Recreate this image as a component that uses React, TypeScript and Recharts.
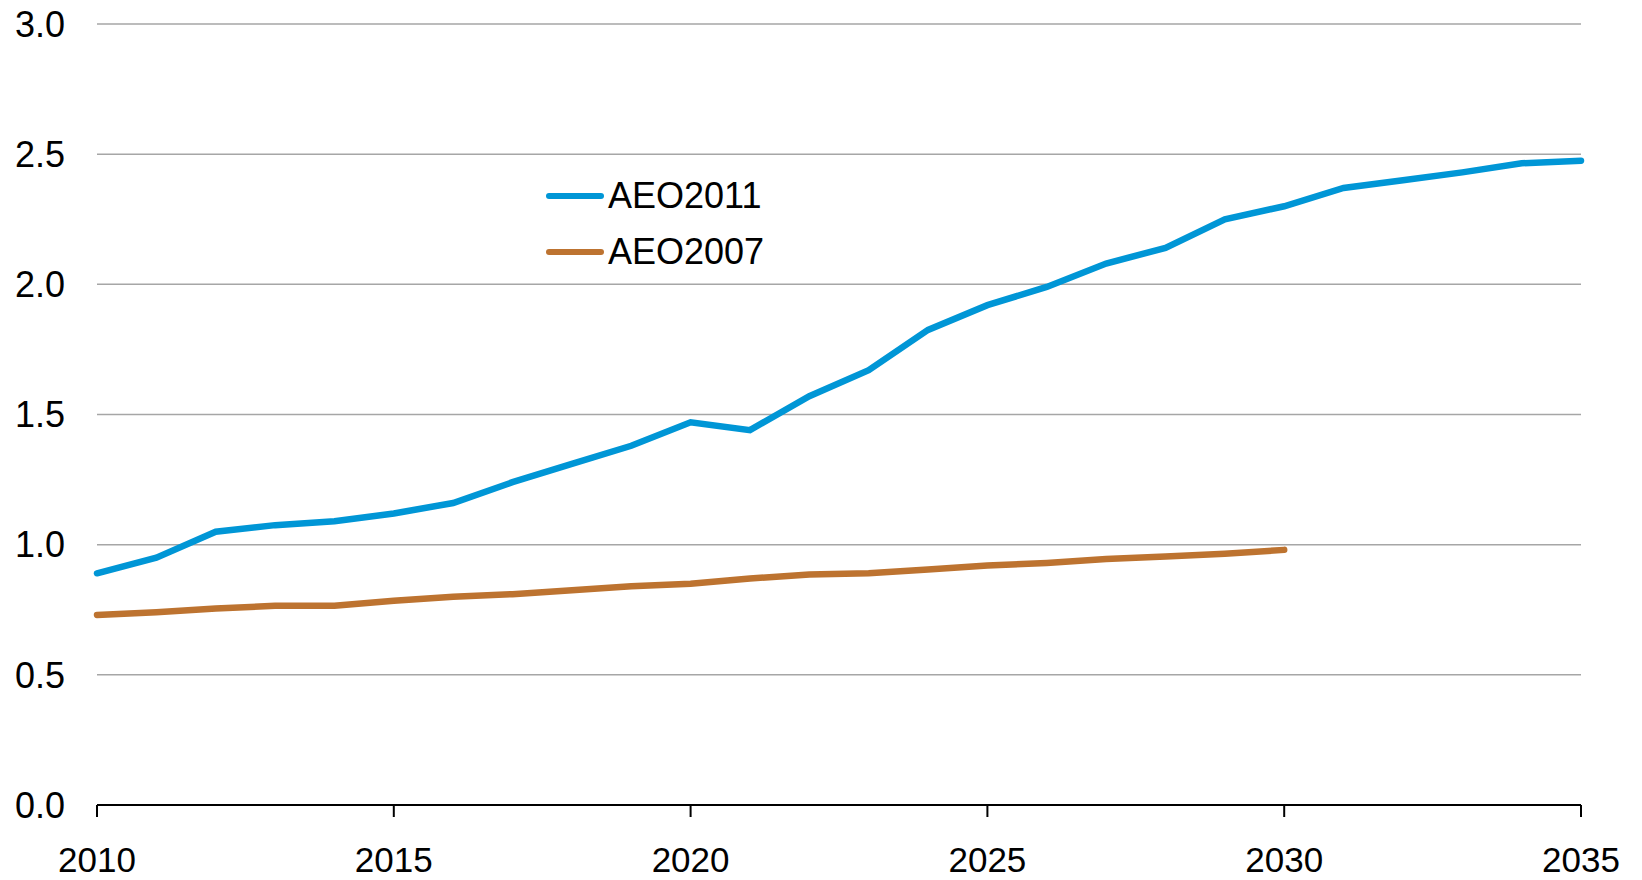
import { LineChart, Line, XAxis, YAxis, CartesianGrid, Legend } from "recharts";

const years = [2010, 2011, 2012, 2013, 2014, 2015, 2016, 2017, 2018, 2019, 2020, 2021, 2022, 2023, 2024, 2025, 2026, 2027, 2028, 2029, 2030, 2031, 2032, 2033, 2034, 2035];
const aeo2011 = [0.89, 0.95, 1.05, 1.075, 1.09, 1.12, 1.16, 1.24, 1.31, 1.38, 1.47, 1.44, 1.57, 1.67, 1.825, 1.92, 1.99, 2.08, 2.14, 2.25, 2.30, 2.37, 2.40, 2.43, 2.465, 2.475];
const aeo2007 = [0.73, 0.74, 0.755, 0.765, 0.765, 0.785, 0.80, 0.81, 0.825, 0.84, 0.85, 0.87, 0.885, 0.89, 0.905, 0.92, 0.93, 0.945, 0.955, 0.965, 0.98];
const xTicks = [2010, 2015, 2020, 2025, 2030, 2035];
const yTicks = [0, 0.5, 1, 1.5, 2, 2.5, 3];

const BLUE = "#0096d6";
const ORANGE = "#bd7330";
const FONT = "'Liberation Sans', Arial, sans-serif";

const data = years.map((year, i) => ({
  year,
  aeo2011: aeo2011[i],
  aeo2007: i < aeo2007.length ? aeo2007[i] : null,
}));

const legendItems = [
  { name: "AEO2011", color: BLUE },
  { name: "AEO2007", color: ORANGE },
];

function LegendBox() {
  return (
    <div style={{ fontFamily: FONT, fontSize: 36, color: "#000" }}>
      {legendItems.map((it) => (
        <div key={it.name} style={{ display: "flex", alignItems: "center", height: 56 }}>
          <svg width={58} height={10} style={{ marginRight: 4 }}>
            <line x1={3} y1={5} x2={55} y2={5} stroke={it.color} strokeWidth={6} strokeLinecap="round" />
          </svg>
          <span>{it.name}</span>
        </div>
      ))}
    </div>
  );
}

export default function App() {
  return (
    <div style={{ margin: -8, width: 1642, height: 880, background: "#fff" }}>
      <LineChart width={1642} height={880} data={data} margin={{ top: 24, right: 61, bottom: 0, left: 0 }}>
        <CartesianGrid horizontal vertical={false} stroke="#a6a6a6" strokeWidth={1.5} />
        <XAxis
          dataKey="year"
          type="number"
          domain={[2010, 2035]}
          ticks={xTicks}
          height={75}
          axisLine={{ stroke: "#000", strokeWidth: 2 }}
          tickLine={{ stroke: "#000", strokeWidth: 2 }}
          tickSize={12}
          tickMargin={30}
          tick={{ fill: "#000", fontSize: 35, fontFamily: FONT }}
          interval={0}
        />
        <YAxis
          type="number"
          domain={[0, 3]}
          ticks={yTicks}
          width={97}
          axisLine={false}
          tickLine={false}
          tickSize={0}
          tickMargin={32}
          tickFormatter={(v: number) => v.toFixed(1)}
          tick={{ fill: "#000", fontSize: 36, fontFamily: FONT }}
          interval={0}
        />
        <Legend
          layout="vertical"
          align="center"
          verticalAlign="middle"
          content={() => <LegendBox />}
          wrapperStyle={{ left: 546, top: 168, width: 260 }}
        />
        <Line
          type="linear"
          dataKey="aeo2011"
          name="AEO2011"
          stroke={BLUE}
          strokeWidth={6.5}
          dot={false}
          strokeLinecap="round"
          isAnimationActive={false}
        />
        <Line
          type="linear"
          dataKey="aeo2007"
          name="AEO2007"
          stroke={ORANGE}
          strokeWidth={6.5}
          dot={false}
          strokeLinecap="round"
          isAnimationActive={false}
        />
      </LineChart>
    </div>
  );
}
